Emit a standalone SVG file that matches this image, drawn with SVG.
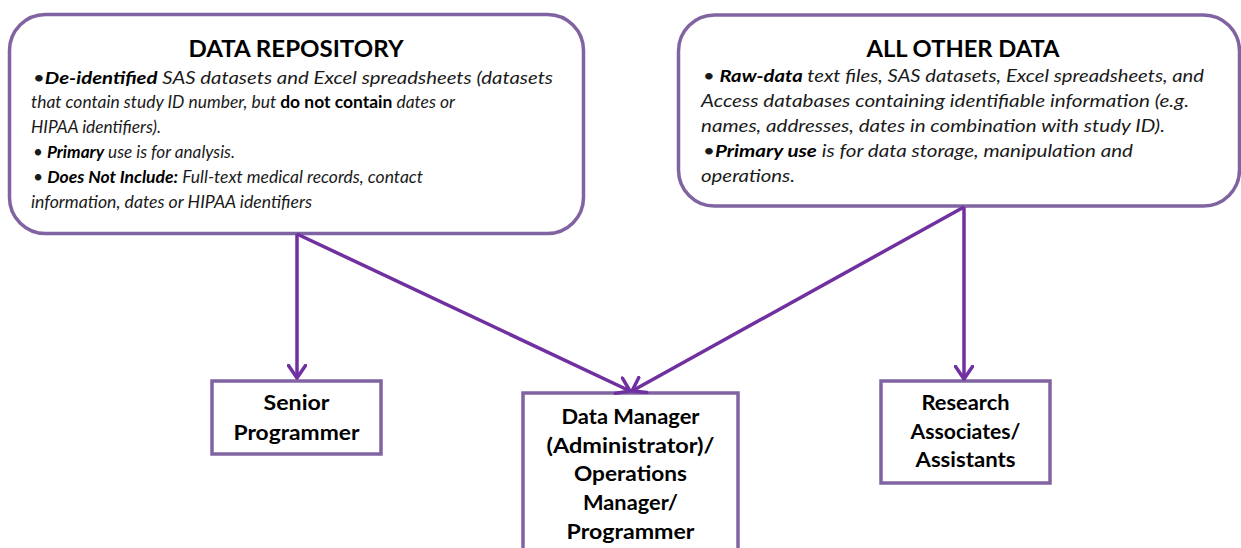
<svg xmlns="http://www.w3.org/2000/svg" width="1241" height="548" viewBox="0 0 1241 548">
<style>
.box{fill:#fff;stroke:#8064A2;stroke-width:3.5}
.conn{fill:none;stroke:#7030A0;stroke-width:3.5}
.title{font-family:Lato,"Open Sans",sans-serif;font-weight:bold;font-size:22px;fill:#000;text-anchor:middle}
.body{font-family:Lato,"Open Sans",sans-serif;font-style:italic;font-size:17px;fill:#1a1a1a}
.b{font-weight:bold;fill:#000}
.up{font-style:normal;font-weight:bold;fill:#000}
.dot{font-weight:normal;font-style:normal}
.lbl{font-family:Lato,"Open Sans",sans-serif;font-weight:bold;font-size:20px;fill:#000;text-anchor:middle}
</style>
<defs>
<marker id="arr" viewBox="0 0 16 20" refX="14" refY="10" markerWidth="16" markerHeight="20" markerUnits="userSpaceOnUse" orient="auto">
<path d="M1.5,1.5 L14,10 L1.5,18.5" fill="none" stroke="#7030A0" stroke-width="3.5" stroke-linecap="round" stroke-linejoin="round"/>
</marker>
</defs>
<rect width="1241" height="548" fill="#fff"/>

<g id="data-repository">
<rect class="box" x="9.5" y="14.5" width="574" height="219" rx="36"/>
<text class="title" x="296" y="57" textLength="215" lengthAdjust="spacingAndGlyphs">DATA REPOSITORY</text>
<text class="body" x="33" y="84" textLength="520" lengthAdjust="spacingAndGlyphs"><tspan class="dot">•</tspan><tspan class="b">De-identified</tspan> SAS datasets and Excel spreadsheets (datasets</text>
<text class="body" x="31" y="108" textLength="424" lengthAdjust="spacingAndGlyphs">that contain study ID number, but <tspan class="up">do not contain</tspan> dates or</text>
<text class="body" x="31" y="133" textLength="130" lengthAdjust="spacingAndGlyphs">HIPAA identifiers).</text>
<text class="body" x="33" y="158" textLength="202" lengthAdjust="spacingAndGlyphs"><tspan class="dot">•</tspan> <tspan class="b">Primary</tspan> use is for analysis.</text>
<text class="body" x="33" y="183" textLength="390" lengthAdjust="spacingAndGlyphs"><tspan class="dot">•</tspan> <tspan class="b">Does Not Include:</tspan> Full-text medical records, contact</text>
<text class="body" x="31" y="208" textLength="281" lengthAdjust="spacingAndGlyphs">information, dates or HIPAA identifiers</text>
</g>

<g id="all-other-data">
<rect class="box" x="678.5" y="15" width="561" height="191" rx="36"/>
<text class="title" x="963" y="57" textLength="193" lengthAdjust="spacingAndGlyphs">ALL OTHER DATA</text>
<text class="body" x="703" y="82" textLength="501" lengthAdjust="spacingAndGlyphs"><tspan class="dot">•</tspan> <tspan class="b">Raw-data</tspan> text files, SAS datasets, Excel spreadsheets, and</text>
<text class="body" x="701" y="107" textLength="488" lengthAdjust="spacingAndGlyphs">Access databases containing identifiable information (e.g.</text>
<text class="body" x="701" y="132" textLength="464" lengthAdjust="spacingAndGlyphs">names, addresses, dates in combination with study ID).</text>
<text class="body" x="703" y="157" textLength="430" lengthAdjust="spacingAndGlyphs"><tspan class="dot">•</tspan><tspan class="b">Primary use</tspan> is for data storage, manipulation and</text>
<text class="body" x="701" y="182" textLength="94" lengthAdjust="spacingAndGlyphs">operations.</text>
</g>

<g id="senior-programmer">
<rect class="box" x="212" y="381" width="169" height="73"/>
<text class="lbl" x="296.5" y="410" textLength="66" lengthAdjust="spacingAndGlyphs">Senior</text>
<text class="lbl" x="296.5" y="440" textLength="126" lengthAdjust="spacingAndGlyphs">Programmer</text>
</g>

<g id="data-manager">
<rect class="box" x="523" y="393" width="215" height="170"/>
<text class="lbl" x="630.5" y="424" textLength="138" lengthAdjust="spacingAndGlyphs">Data Manager</text>
<text class="lbl" x="630.5" y="453" textLength="168" lengthAdjust="spacingAndGlyphs">(Administrator)/</text>
<text class="lbl" x="630.5" y="481" textLength="113" lengthAdjust="spacingAndGlyphs">Operations</text>
<text class="lbl" x="630.5" y="510" textLength="95" lengthAdjust="spacingAndGlyphs">Manager/</text>
<text class="lbl" x="630.5" y="539" textLength="128" lengthAdjust="spacingAndGlyphs">Programmer</text>
</g>

<g id="research-associates">
<rect class="box" x="881" y="381" width="169" height="102"/>
<text class="lbl" x="965.5" y="410" textLength="88" lengthAdjust="spacingAndGlyphs">Research</text>
<text class="lbl" x="965.5" y="439" textLength="110" lengthAdjust="spacingAndGlyphs">Associates/</text>
<text class="lbl" x="965.5" y="467" textLength="100" lengthAdjust="spacingAndGlyphs">Assistants</text>
</g>

<g id="connectors">
<path class="conn" d="M297,234 L297,378" marker-end="url(#arr)"/>
<path class="conn" d="M297,234 L630,391" marker-end="url(#arr)"/>
<path class="conn" d="M964,207 L632,391" marker-end="url(#arr)"/>
<path class="conn" d="M964,207 L964,379" marker-end="url(#arr)"/>
</g>
</svg>
